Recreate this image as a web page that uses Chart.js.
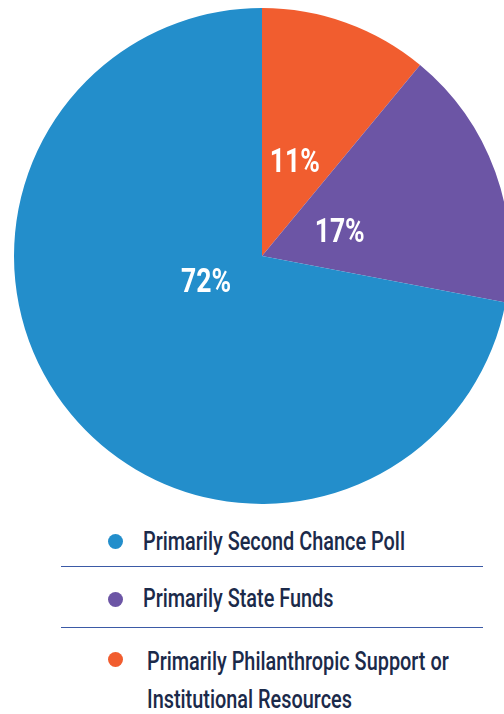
<!DOCTYPE html>
<html>
<head>
<meta charset="utf-8">
<script src="https://cdn.jsdelivr.net/npm/chart.js@4"></script>
<style>
  html, body { margin: 0; padding: 0; background: #fff; overflow: hidden; }
  body { width: 504px; height: 714px; position: relative; }
  #pieWrap { position: absolute; left: 0; top: 0; width: 524px; height: 512px; }
  .legend { position: absolute; left: 0; top: 0; width: 504px; font-family: Roboto, sans-serif; font-weight: 500; color: #1b2a4a; }
  .item { position: absolute; font-size: 26px; white-space: nowrap; transform-origin: 0 0; }
  .dot { position: absolute; width: 15px; height: 15px; border-radius: 50%; }
  .rule { position: absolute; left: 61px; width: 422px; height: 0; border-top: 1.5px solid #3b5aa6; }
</style>
</head>
<body>
<div id="pieWrap"><canvas id="myChart"></canvas></div>
<div class="legend" id="legend"></div>
<script>
'use strict';

// slices in clockwise order, starting from 12 o'clock
var categories = ['Primarily Philanthropic Support or Institutional Resources', 'Primarily State Funds', 'Primarily Second Chance Poll'];
var shares = [11, 17, 72];
var sliceColors = ['#f15d2f', '#6c55a5', '#238ecb'];

// legend is listed in the reverse order
var legendOrder = [2, 1, 0];

// where each percent label sits: fraction of radius, and turn (deg) away from the slice middle
var labelSpots = [
  { r: 0.41, turn: -1 },
  { r: 0.33, turn: 1.5 },
  { r: 0.246, turn: 16 }
];

// narrow look for the type: horizontal squeeze
var labelSqueeze = 0.78;

var pctLabels = {
  id: 'pctLabels',
  afterDatasetsDraw: function (chart) {
    var ctx = chart.ctx;
    var meta = chart.getDatasetMeta(0);
    ctx.save();
    ctx.fillStyle = '#fff';
    ctx.font = 'bold 34px Roboto, sans-serif';
    ctx.textAlign = 'center';
    ctx.textBaseline = 'alphabetic';
    meta.data.forEach(function (arc, i) {
      var p = arc.getProps(['x', 'y', 'startAngle', 'endAngle', 'outerRadius'], true);
      var mid = (p.startAngle + p.endAngle) / 2 + labelSpots[i].turn * Math.PI / 180;
      var d = p.outerRadius * labelSpots[i].r;
      ctx.save();
      ctx.translate(p.x + Math.cos(mid) * d, p.y + Math.sin(mid) * d + 12);
      ctx.scale(labelSqueeze, 1);
      ctx.fillText(shares[i] + '%', 0, 0);
      ctx.restore();
    });
    ctx.restore();
  }
};

var myChart = new Chart(document.getElementById('myChart'), {
  type: 'pie',
  data: {
    labels: categories,
    datasets: [{
      data: shares,
      backgroundColor: sliceColors,
      borderWidth: 0
    }]
  },
  options: {
    responsive: true,
    maintainAspectRatio: false,
    animation: false,
    layout: { padding: 8 },
    plugins: {
      legend: { display: false },
      tooltip: { enabled: false }
    }
  },
  plugins: [pctLabels]
});

// html legend under the pie
var legend = document.getElementById('legend');
var rows = [
  { top: 523, lh: 36, dotTop: 534, textLeft: 143, text: categories[2] },
  { top: 580, lh: 36, dotTop: 592, textLeft: 143, text: categories[1] },
  { top: 642, lh: 38, dotTop: 652, textLeft: 147, text: 'Primarily Philanthropic Support or<br>Institutional Resources' }
];
var texts = [];
legendOrder.forEach(function (idx, n) {
  var row = rows[n];
  var dot = document.createElement('div');
  dot.className = 'dot';
  dot.style.left = '108px';
  dot.style.top = row.dotTop + 'px';
  dot.style.background = sliceColors[idx];
  legend.appendChild(dot);
  var txt = document.createElement('div');
  txt.className = 'item';
  txt.style.left = row.textLeft + 'px';
  txt.style.top = row.top + 'px';
  txt.style.lineHeight = row.lh + 'px';
  txt.innerHTML = row.text;
  legend.appendChild(txt);
  texts.push(txt);
});
// squeeze the legend type so the first entry runs 262px wide
var squeeze = 262 / texts[0].getBoundingClientRect().width;
texts.forEach(function (t) { t.style.transform = 'scaleX(' + squeeze + ')'; });

[566, 627].forEach(function (y) {
  var r = document.createElement('div');
  r.className = 'rule';
  r.style.top = y + 'px';
  legend.appendChild(r);
});
</script>
</body>
</html>
